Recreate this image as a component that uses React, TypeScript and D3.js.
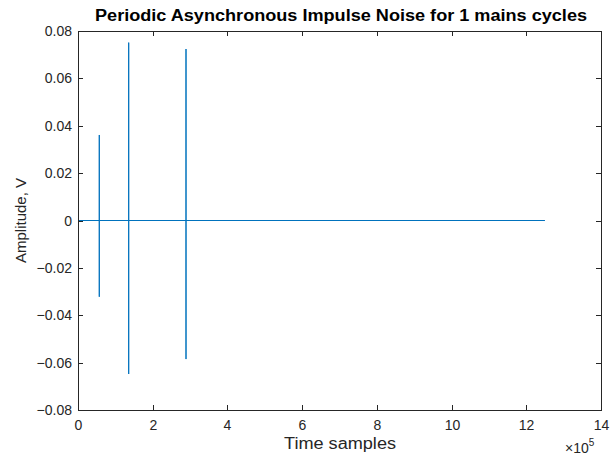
import React, { useEffect, useRef } from "react";
import * as d3 from "d3";

// Data
const impulsePositions = [57000, 135700, 289100]; // time samples
const impulsePeaks = [0.0361, 0.0751, 0.0724]; // V
const impulseTroughs = [-0.0322, -0.0648, -0.0585]; // V
const signalLength = 1250000;
const xTicks = [0, 2, 4, 6, 8, 10, 12, 14];
const yTicks = [-0.08, -0.06, -0.04, -0.02, 0, 0.02, 0.04, 0.06, 0.08];

const W = 613;
const H = 459;
const M = { left: 78, right: 601, top: 31, bottom: 410 };
const FONT = "'Liberation Sans', Arial, Helvetica, sans-serif";
const AX = "#262626";

export default function App() {
  const ref = useRef<SVGSVGElement>(null);
  useEffect(() => {
    const svg = d3.select(ref.current);
    svg.selectAll("*").remove();
    const x = d3.scaleLinear().domain([0, 14e5]).range([M.left, M.right]);
    const y = d3.scaleLinear().domain([-0.08, 0.08]).range([M.bottom, M.top]);

    svg.append("rect").attr("width", W).attr("height", H).attr("fill", "#fff");

    // build signal polyline
    const pts: [number, number][] = [[0, 0]];
    impulsePositions.forEach((p, i) => {
      pts.push([p, 0], [p, impulsePeaks[i]], [p, impulseTroughs[i]], [p, 0]);
    });
    pts.push([signalLength, 0]);
    const line = d3.line<[number, number]>().x((d) => x(d[0])).y((d) => y(d[1]));
    svg.append("path").attr("d", line(pts)!).attr("fill", "none")
      .attr("stroke", "#0072BD").attr("stroke-width", 1);

    const g = svg.append("g").attr("font-family", FONT).attr("fill", AX);
    // box
    g.append("rect").attr("x", M.left + 0.5).attr("y", M.top + 0.5)
      .attr("width", M.right - M.left).attr("height", M.bottom - M.top)
      .attr("fill", "none").attr("stroke", AX).attr("stroke-width", 1);
    const tl = 5;
    xTicks.forEach((t) => {
      const px = Math.round(x(t * 1e5)) + 0.5;
      g.append("line").attr("x1", px).attr("x2", px).attr("y1", M.bottom + 0.5).attr("y2", M.bottom - tl).attr("stroke", AX);
      g.append("line").attr("x1", px).attr("x2", px).attr("y1", M.top + 0.5).attr("y2", M.top + tl).attr("stroke", AX);
      g.append("text").attr("x", px).attr("y", M.bottom + 20).attr("text-anchor", "middle")
        .attr("font-size", 14).text(String(t));
    });
    yTicks.forEach((t) => {
      const py = Math.round(y(t)) + 0.5;
      g.append("line").attr("x1", M.left + 0.5).attr("x2", M.left + tl).attr("y1", py).attr("y2", py).attr("stroke", AX);
      g.append("line").attr("x1", M.right + 0.5).attr("x2", M.right - tl).attr("y1", py).attr("y2", py).attr("stroke", AX);
      g.append("text").attr("x", M.left - 6).attr("y", py + 4.5).attr("text-anchor", "end")
        .attr("font-size", 14).text(t === 0 ? "0" : d3.format(".2f")(t));
    });

    g.append("text").attr("x", 341).attr("y", 21).attr("text-anchor", "middle")
      .attr("font-size", 16).attr("font-weight", "bold").attr("fill", "#000")
      .attr("textLength", 492).attr("lengthAdjust", "spacingAndGlyphs")
      .text("Periodic Asynchronous Impulse Noise for 1 mains cycles");
    g.append("text").attr("x", 340).attr("y", 449).attr("text-anchor", "middle")
      .attr("font-size", 16).attr("textLength", 112).attr("lengthAdjust", "spacingAndGlyphs")
      .text("Time samples");
    g.append("text").attr("transform", `translate(26,${(M.top + M.bottom) / 2}) rotate(-90)`)
      .attr("text-anchor", "middle").attr("font-size", 15).text("Amplitude, V");
    const ex = g.append("text").attr("x", 565).attr("y", 453).attr("font-size", 14);
    ex.append("tspan").text("\u00d710");
    ex.append("tspan").attr("dy", -7).attr("font-size", 10).text("5");
  }, []);
  return (
    <svg ref={ref} width={W} height={H} style={{ position: "absolute", left: 0, top: 0 }} />
  );
}
